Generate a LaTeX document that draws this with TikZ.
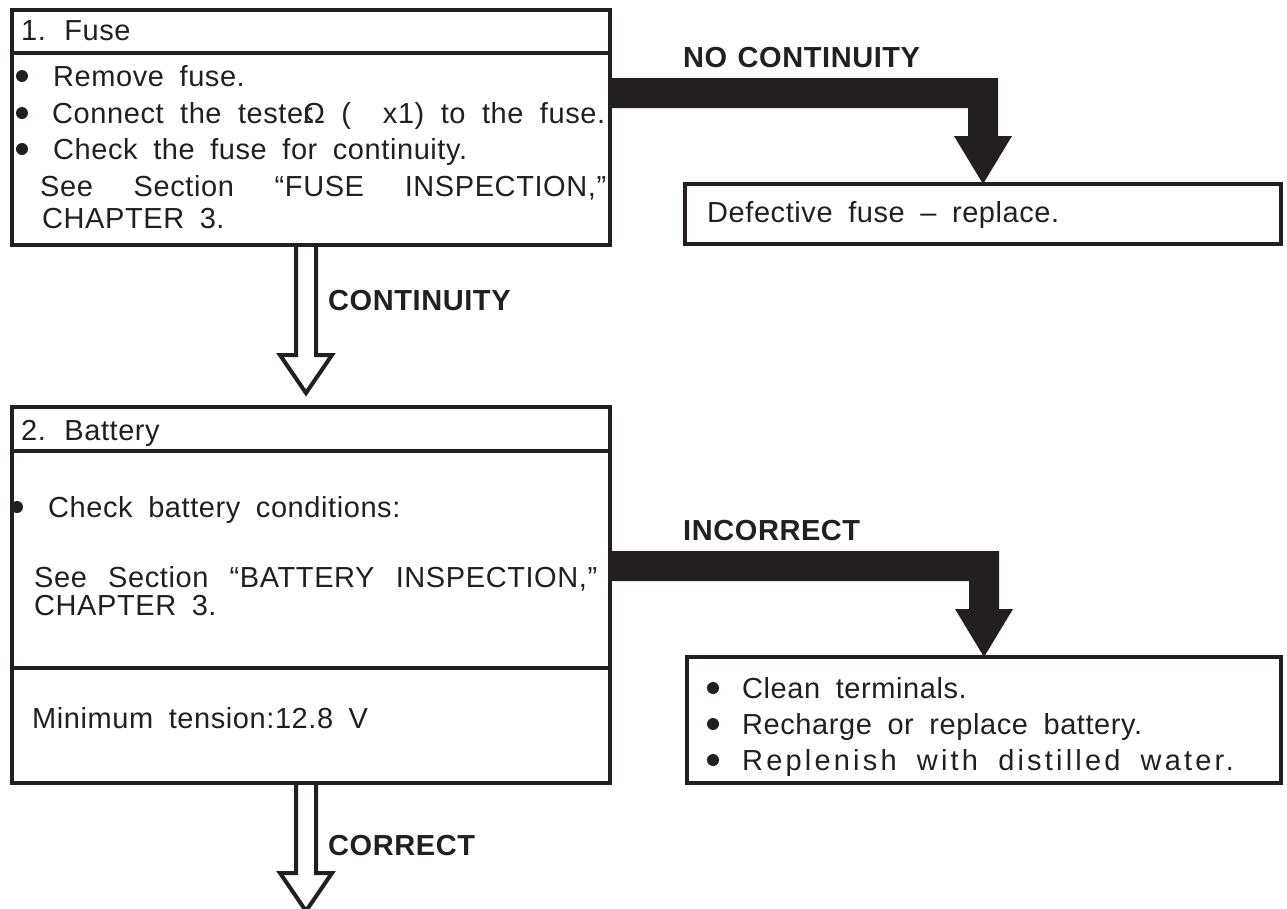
\documentclass[tikz,border=0pt]{standalone}
\usepackage{fontspec}
\setmainfont{Liberation Sans}[WordSpace=1.8, LetterSpace=2]
\usetikzlibrary{calc}
\definecolor{ink}{RGB}{35,31,32}
\newcommand{\spread}[2]{\makebox[#1][s]{#2}}

\tikzset{
  box/.style={draw=ink, line width=4.5pt, anchor=north west, inner sep=0pt, outer sep=0pt},
  seprule/.style={draw=ink, line width=4pt},
  txt/.style={anchor=base west, inner sep=0pt, text=ink, font=\fontsize{29}{34}\selectfont},
  lbl/.style={anchor=base west, inner sep=0pt, text=ink, font=\fontsize{29}{34}\selectfont\bfseries},
  solidarrow/.style={fill=ink},
  hollowarrow/.style={draw=ink, line width=4pt, line join=miter},
  bulletdot/.style={fill=ink},
}

\begin{document}
\begin{tikzpicture}[x=1pt, y=-1pt]
\useasboundingbox (0,0) rectangle (1287,908);

% boxes
\node[box, minimum width=598pt, minimum height=235pt] (fuse) at (12,10) {};
\node[box, minimum width=596pt, minimum height=60pt] (defect) at (685,184) {};
\node[box, minimum width=598pt, minimum height=376pt] (battery) at (12,407) {};
\node[box, minimum width=594pt, minimum height=126pt] (remedy) at (687,657) {};

% header and middle rules
\draw[seprule] (fuse.west |- 0,53) -- (fuse.east |- 0,53);
\draw[seprule] (battery.west |- 0,451) -- (battery.east |- 0,451);
\draw[seprule] (battery.west |- 0,668) -- (battery.east |- 0,668);

% 1. fuse
\node[txt] (fusetitle) at (21,40) {1. Fuse};
\foreach \y in {76,113,149} \fill[bulletdot] (22,\y) circle (6pt);
\node[txt] (fuse1) at (53,86) {Remove fuse.};
\node[txt] (fuse2) at (52,123) {\spread{553pt}{Connect the teste\rlap{r}Ω (\hspace{1.1em}x1) to the fuse.}};
\node[txt] (fuse3) at (53,159) {Check the fuse for continuity.};
\node[txt] (fuse4) at (40,196) {\spread{566pt}{See Section “FUSE INSPECTION,”}};
\node[txt] (fuse5) at (42,228) {CHAPTER 3.};

\node[txt] (defecttext) at (707,222) {Defective fuse – replace.};

% 2. battery
\node[txt] (battitle) at (21,440) {2. Battery};
\fill[bulletdot] (17,507) circle (6pt);
\node[txt] (bat1) at (48,517) {Check battery conditions:};
\node[txt] (bat2) at (34,587) {\spread{563pt}{See Section “BATTERY INSPECTION,”}};
\node[txt] (bat3) at (34,615) {CHAPTER 3.};
\node[txt] (bat4) at (32,728) {Minimum tension:12.8 V};

\foreach \y in {688,724,760} \fill[bulletdot] (713,\y) circle (6pt);
\node[txt] (remedy1) at (742,698) {Clean terminals.};
\node[txt] (remedy2) at (742,734) {Recharge or replace battery.};
\node[txt] (remedy3) at (742,770) {\addfontfeatures{LetterSpace=11}Replenish with distilled water.};

% labels
\node[lbl] (nocont) at (683,67) {\spread{236pt}{NO CONTINUITY}};
\node[lbl] (cont) at (328,310) {CONTINUITY};
\node[lbl] (incorr) at (683,540) {INCORRECT};
\node[lbl] (corr) at (328,855) {CORRECT};

% solid arrows
\foreach \src/\dst in {fuse/defect, battery/remedy}
  \fill[solidarrow] ($(\src.east |- \dst.north)+(0,-106)$) -- ($(\dst.north)+(15,-106)$)
    -- ($(\dst.north)+(15,-48)$) -- ($(\dst.north)+(29,-48)$) -- (\dst.north)
    -- ($(\dst.north)+(-29,-48)$) -- ($(\dst.north)+(-15,-48)$) -- ($(\dst.north)+(-15,-76)$)
    -- ($(\src.east |- \dst.north)+(0,-76)$) -- cycle;

% hollow arrows
\draw[hollowarrow] ($(fuse.south)+(-15,0)$) -- ($(battery.north)+(-15,-52)$) -- ($(battery.north)+(-31,-52)$)
  -- ($(battery.north)+(-5,-14)$) -- ($(battery.north)+(21,-52)$) -- ($(battery.north)+(5,-52)$) -- ($(fuse.south)+(5,0)$);

\coordinate (nextstep) at ($(battery.south)+(-5,128)$);
\draw[hollowarrow] ($(battery.south)+(-15,0)$) -- ($(nextstep)+(-10,-38)$) -- ($(nextstep)+(-26,-38)$)
  -- (nextstep) -- ($(nextstep)+(26,-38)$) -- ($(nextstep)+(10,-38)$) -- ($(battery.south)+(5,0)$);

\end{tikzpicture}
\end{document}
